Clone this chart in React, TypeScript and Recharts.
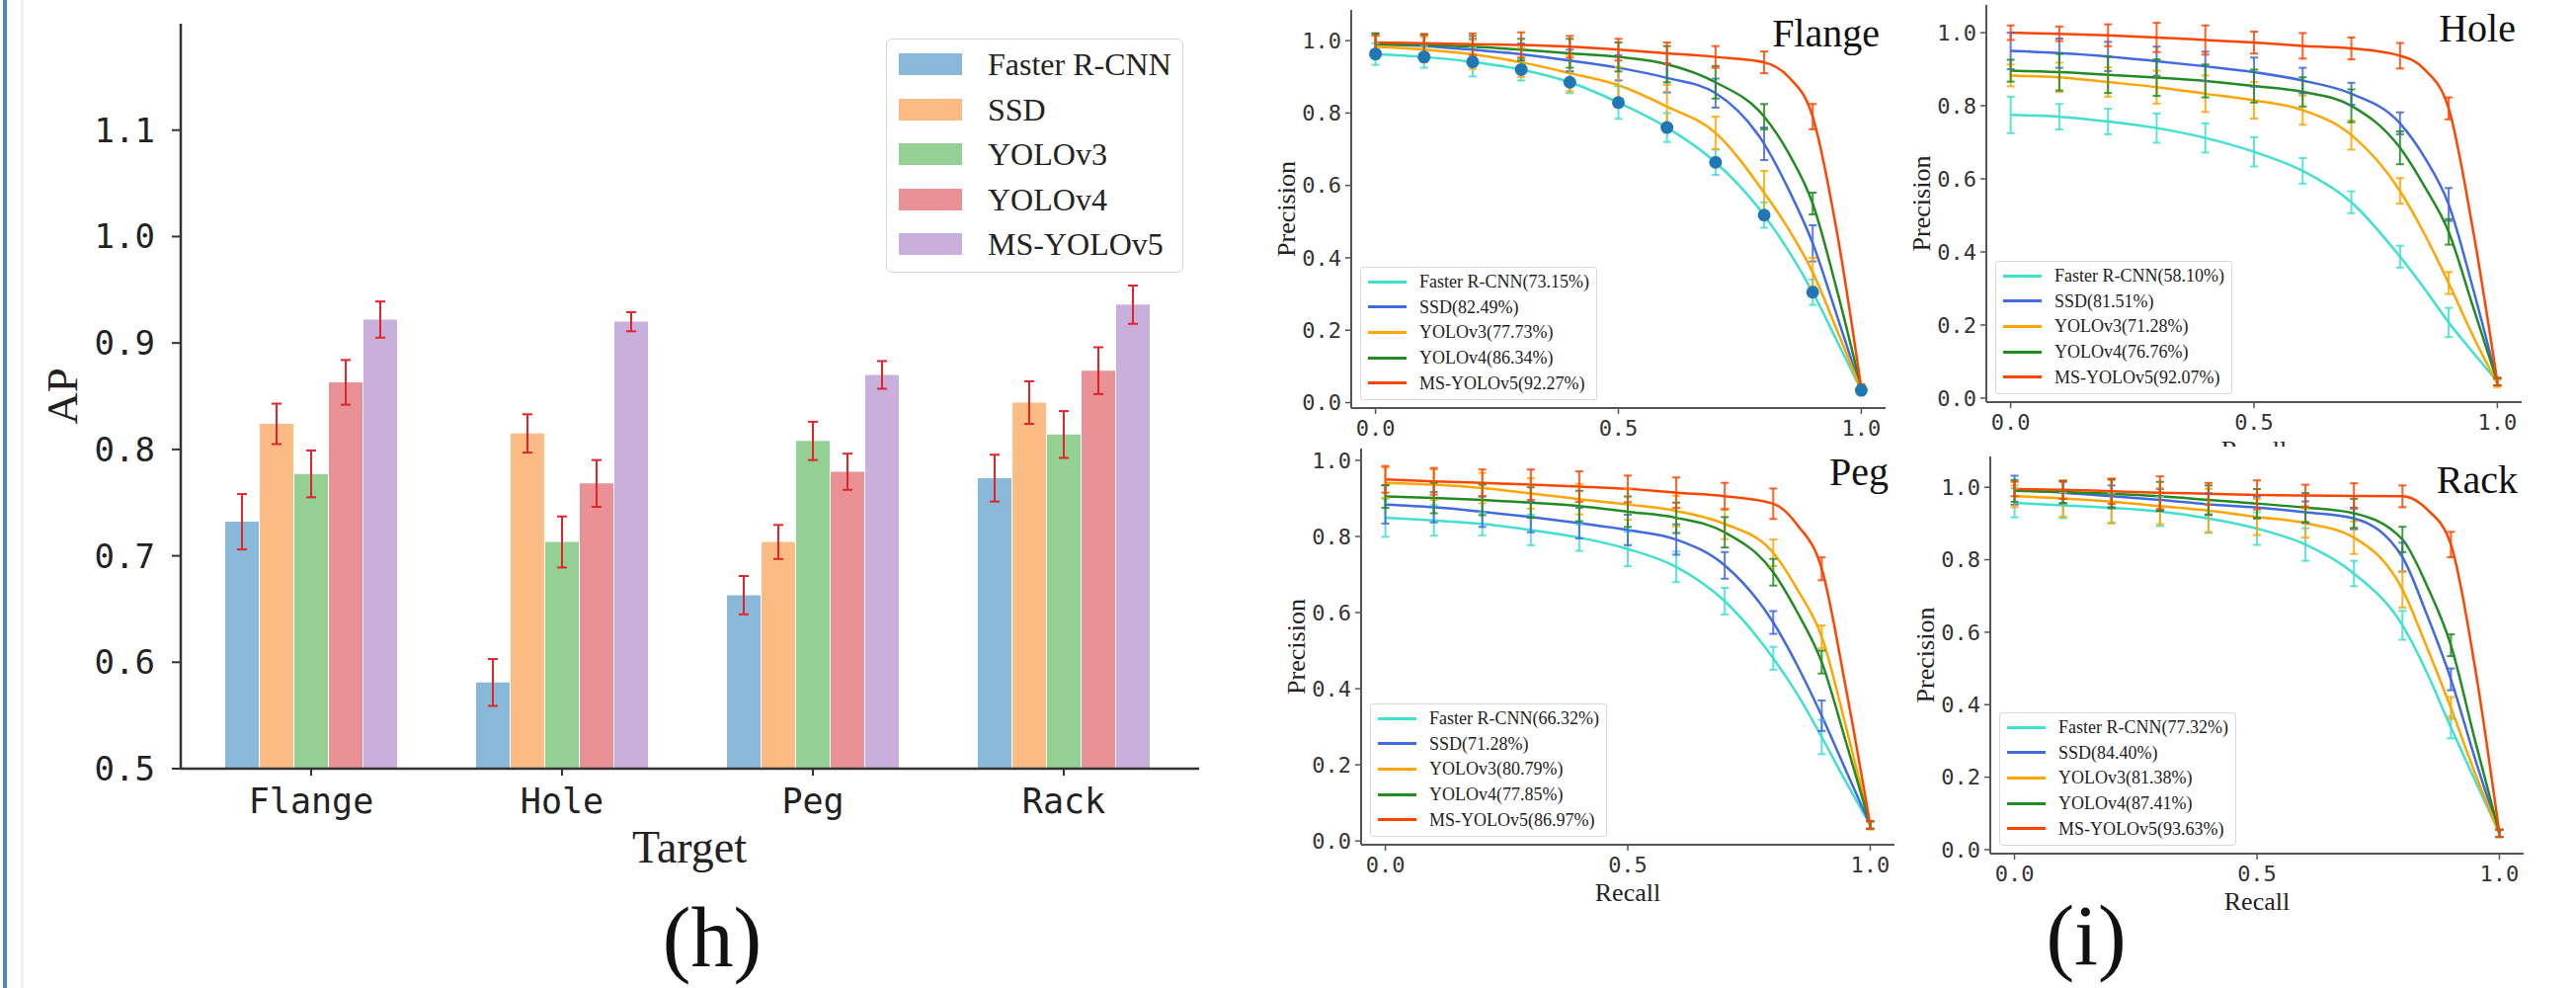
import React from 'react';
import { BarChart, Bar, XAxis, YAxis, ErrorBar, ComposedChart, Line, Scatter } from 'recharts';

const SERIF = '"Liberation Serif", "Times New Roman", serif';
const MONO = '"DejaVu Sans Mono", monospace';

// ---------- (h) bar chart data ----------
const CATEGORIES = ['Flange', 'Hole', 'Peg', 'Rack'];
const MODELS = ['Faster R-CNN', 'SSD', 'YOLOv3', 'YOLOv4', 'MS-YOLOv5'];
const BAR_COLORS = ['#8ab8d9', '#fdbb84', '#94cf94', '#ea9195', '#c9afdc'];
const AP_FASTER = [0.732, 0.581, 0.663, 0.773];
const AP_SSD = [0.824, 0.815, 0.713, 0.844];
const AP_YOLOV3 = [0.777, 0.713, 0.808, 0.814];
const AP_YOLOV4 = [0.863, 0.768, 0.779, 0.874];
const AP_MS = [0.922, 0.920, 0.870, 0.936];
const ERR_FASTER = [0.026, 0.022, 0.018, 0.022];
const ERR_SSD = [0.019, 0.018, 0.016, 0.020];
const ERR_YOLOV3 = [0.022, 0.024, 0.018, 0.022];
const ERR_YOLOV4 = [0.021, 0.022, 0.017, 0.022];
const ERR_MS = [0.017, 0.009, 0.013, 0.018];
const AP_TICKS = [0.5, 0.6, 0.7, 0.8, 0.9, 1.0, 1.1];
const AP_DOMAIN = [0.5, 1.2];

const AP_SERIES = [AP_FASTER, AP_SSD, AP_YOLOV3, AP_YOLOV4, AP_MS];
const AP_ERRS = [ERR_FASTER, ERR_SSD, ERR_YOLOV3, ERR_YOLOV4, ERR_MS];
const barData = CATEGORIES.map((name, i) => {
  const row: any = { name };
  AP_SERIES.forEach((s, k) => {
    row['m' + k] = s[i];
    row['e' + k] = AP_ERRS[k][i];
  });
  return row;
});

// ---------- (i) precision-recall data ----------
const CURVE_RECALL = [0, 0.1, 0.2, 0.3, 0.4, 0.5, 0.6, 0.7, 0.8, 0.85, 0.9, 0.95, 1.0];
const ERR_RECALL = [0, 0.1, 0.2, 0.3, 0.4, 0.5, 0.6, 0.7, 0.8, 0.9, 1.0];
const PR_COLORS = ['#40e0d0', '#4169e1', '#ffa500', '#228b22', '#ff4500'];
const PR_X_TICKS = [0, 0.5, 1.0];
const PR_Y_TICKS = [0, 0.2, 0.4, 0.6, 0.8, 1.0];

// Flange
const FLANGE_FASTER = [0.963, 0.955, 0.941, 0.920, 0.885, 0.829, 0.760, 0.664, 0.518, 0.42, 0.305, 0.17, 0.034];
const FLANGE_SSD = [0.99, 0.985, 0.975, 0.962, 0.945, 0.925, 0.897, 0.855, 0.715, 0.59, 0.44, 0.24, 0.035];
const FLANGE_YOLOV3 = [0.983, 0.975, 0.962, 0.94, 0.91, 0.877, 0.818, 0.745, 0.58, 0.48, 0.36, 0.2, 0.035];
const FLANGE_YOLOV4 = [0.99, 0.988, 0.983, 0.975, 0.965, 0.955, 0.935, 0.885, 0.79, 0.69, 0.55, 0.31, 0.04];
const FLANGE_MS = [0.995, 0.993, 0.99, 0.988, 0.983, 0.975, 0.965, 0.955, 0.94, 0.9, 0.79, 0.47, 0.04];
const FLANGE_ERR_FASTER = [0.03, 0.03, 0.04, 0.03, 0.03, 0.045, 0.04, 0.035, 0.035, 0.035, 0.01];
const FLANGE_ERR_SSD = [0.03, 0.03, 0.03, 0.03, 0.03, 0.035, 0.04, 0.04, 0.045, 0.05, 0.01];
const FLANGE_ERR_YOLOV3 = [0.03, 0.035, 0.04, 0.04, 0.05, 0.05, 0.06, 0.045, 0.06, 0.04, 0.01];
const FLANGE_ERR_YOLOV4 = [0.03, 0.03, 0.03, 0.03, 0.04, 0.04, 0.05, 0.045, 0.035, 0.03, 0.01];
const FLANGE_ERR_MS = [0.02, 0.025, 0.03, 0.035, 0.03, 0.03, 0.03, 0.03, 0.03, 0.035, 0.01];
const FLANGE_LABELS = ['Faster R-CNN(73.15%)', 'SSD(82.49%)', 'YOLOv3(77.73%)', 'YOLOv4(86.34%)', 'MS-YOLOv5(92.27%)'];

// Hole
const HOLE_FASTER = [0.775, 0.77, 0.757, 0.739, 0.712, 0.674, 0.622, 0.536, 0.387, 0.30, 0.207, 0.125, 0.045];
const HOLE_SSD = [0.95, 0.944, 0.935, 0.922, 0.908, 0.892, 0.869, 0.833, 0.752, 0.66, 0.53, 0.30, 0.045];
const HOLE_YOLOV3 = [0.883, 0.878, 0.865, 0.851, 0.833, 0.815, 0.788, 0.72, 0.567, 0.45, 0.315, 0.17, 0.04];
const HOLE_YOLOV4 = [0.896, 0.892, 0.885, 0.877, 0.868, 0.854, 0.838, 0.8, 0.685, 0.58, 0.455, 0.25, 0.045];
const HOLE_MS = [1.0, 0.997, 0.993, 0.987, 0.98, 0.973, 0.964, 0.957, 0.937, 0.9, 0.793, 0.46, 0.045];
const HOLE_ERR_FASTER = [0.05, 0.035, 0.035, 0.04, 0.04, 0.04, 0.035, 0.03, 0.03, 0.04, 0.01];
const HOLE_ERR_SSD = [0.05, 0.04, 0.04, 0.04, 0.04, 0.04, 0.035, 0.03, 0.03, 0.045, 0.01];
const HOLE_ERR_YOLOV3 = [0.03, 0.04, 0.04, 0.045, 0.05, 0.05, 0.04, 0.04, 0.035, 0.03, 0.01];
const HOLE_ERR_YOLOV4 = [0.03, 0.05, 0.05, 0.05, 0.045, 0.045, 0.04, 0.045, 0.045, 0.035, 0.01];
const HOLE_ERR_MS = [0.02, 0.02, 0.03, 0.04, 0.04, 0.03, 0.035, 0.03, 0.035, 0.03, 0.01];
const HOLE_LABELS = ['Faster R-CNN(58.10%)', 'SSD(81.51%)', 'YOLOv3(71.28%)', 'YOLOv4(76.76%)', 'MS-YOLOv5(92.07%)'];

// Peg
const PEG_FASTER = [0.849, 0.842, 0.833, 0.817, 0.797, 0.767, 0.72, 0.63, 0.48, 0.385, 0.273, 0.155, 0.042];
const PEG_SSD = [0.884, 0.877, 0.865, 0.851, 0.835, 0.817, 0.792, 0.724, 0.574, 0.46, 0.329, 0.185, 0.042];
const PEG_YOLOV3 = [0.941, 0.936, 0.927, 0.913, 0.898, 0.884, 0.867, 0.833, 0.757, 0.66, 0.536, 0.30, 0.04];
const PEG_YOLOV4 = [0.905, 0.901, 0.896, 0.889, 0.88, 0.865, 0.849, 0.811, 0.706, 0.60, 0.47, 0.26, 0.042];
const PEG_MS = [0.95, 0.945, 0.941, 0.936, 0.931, 0.925, 0.915, 0.906, 0.886, 0.83, 0.715, 0.40, 0.042];
const PEG_ERR_FASTER = [0.05, 0.04, 0.03, 0.04, 0.035, 0.045, 0.04, 0.035, 0.03, 0.045, 0.01];
const PEG_ERR_SSD = [0.05, 0.04, 0.04, 0.04, 0.04, 0.04, 0.04, 0.035, 0.03, 0.04, 0.01];
const PEG_ERR_YOLOV3 = [0.04, 0.04, 0.04, 0.04, 0.04, 0.04, 0.04, 0.04, 0.035, 0.03, 0.01];
const PEG_ERR_YOLOV4 = [0.03, 0.04, 0.04, 0.04, 0.04, 0.04, 0.04, 0.04, 0.035, 0.03, 0.01];
const PEG_ERR_MS = [0.035, 0.035, 0.035, 0.04, 0.04, 0.035, 0.04, 0.035, 0.04, 0.03, 0.01];
const PEG_LABELS = ['Faster R-CNN(66.32%)', 'SSD(71.28%)', 'YOLOv3(80.79%)', 'YOLOv4(77.85%)', 'MS-YOLOv5(86.97%)'];

// Rack
const RACK_FASTER = [0.957, 0.95, 0.943, 0.933, 0.914, 0.886, 0.842, 0.762, 0.619, 0.49, 0.337, 0.19, 0.045];
const RACK_SSD = [0.992, 0.985, 0.975, 0.965, 0.953, 0.944, 0.931, 0.914, 0.807, 0.65, 0.47, 0.25, 0.045];
const RACK_YOLOV3 = [0.975, 0.969, 0.96, 0.948, 0.936, 0.918, 0.901, 0.861, 0.718, 0.56, 0.391, 0.21, 0.045];
const RACK_YOLOV4 = [0.99, 0.987, 0.982, 0.975, 0.965, 0.955, 0.944, 0.928, 0.856, 0.73, 0.564, 0.30, 0.045];
const RACK_MS = [0.995, 0.993, 0.989, 0.985, 0.982, 0.979, 0.977, 0.976, 0.975, 0.94, 0.842, 0.50, 0.045];
const RACK_ERR_FASTER = [0.04, 0.035, 0.04, 0.04, 0.04, 0.045, 0.045, 0.035, 0.04, 0.03, 0.01];
const RACK_ERR_SSD = [0.04, 0.03, 0.03, 0.03, 0.03, 0.03, 0.03, 0.03, 0.04, 0.03, 0.01];
const RACK_ERR_YOLOV3 = [0.03, 0.05, 0.06, 0.05, 0.06, 0.05, 0.04, 0.045, 0.05, 0.03, 0.01];
const RACK_ERR_YOLOV4 = [0.03, 0.03, 0.04, 0.04, 0.04, 0.04, 0.04, 0.04, 0.035, 0.03, 0.01];
const RACK_ERR_MS = [0.02, 0.025, 0.035, 0.045, 0.03, 0.04, 0.03, 0.035, 0.03, 0.035, 0.01];
const RACK_LABELS = ['Faster R-CNN(77.32%)', 'SSD(84.40%)', 'YOLOv3(81.38%)', 'YOLOv4(87.41%)', 'MS-YOLOv5(93.63%)'];

const ERR_IDX = ERR_RECALL.map((r) => CURVE_RECALL.indexOf(r));

const fmt1 = (v: number) => Number(v).toFixed(1);

function BarLegend() {
  return (
    <div style={{ position: 'absolute', left: 897, top: 39, width: 301, height: 237, border: '1.5px solid #d6d6d6', borderRadius: 6, background: '#fff', boxSizing: 'border-box' }}>
      {MODELS.map((m, k) => {
        const cy = 25 + k * 45.5;
        return (
          <React.Fragment key={m}>
            <div style={{ position: 'absolute', left: 12, top: cy - 11, width: 64, height: 22, background: BAR_COLORS[k] }} />
            <div style={{ position: 'absolute', left: 102, top: cy - 20, height: 40, lineHeight: '40px', fontFamily: SERIF, fontSize: 32, color: '#222', whiteSpace: 'nowrap' }}>{m}</div>
          </React.Fragment>
        );
      })}
    </div>
  );
}

function APChart() {
  const axisStyle = { stroke: '#333', strokeWidth: 2.5 };
  return (
    <div style={{ position: 'absolute', left: 0, top: 0, width: 1250, height: 1000 }}>
      <BarChart width={1250} height={1000} data={barData} margin={{ top: 24, right: 36, left: 103, bottom: 162 }} barSize={34} barGap={1}>
        <XAxis dataKey="name" padding={{ left: 5, right: 10 }} height={60} interval={0} tickSize={7} tickMargin={13}
          tick={{ fontFamily: MONO, fontSize: 35, fill: '#222' }} axisLine={axisStyle} tickLine={{ stroke: '#333', strokeWidth: 2 }} />
        <XAxis xAxisId="top" dataKey="name" orientation="top" height={0} tick={false} tickLine={false} axisLine={axisStyle} />
        <YAxis domain={AP_DOMAIN} ticks={AP_TICKS} width={80} allowDataOverflow tickFormatter={fmt1} tickSize={9} tickMargin={17}
          tick={{ fontFamily: MONO, fontSize: 34, fill: '#222' }} axisLine={axisStyle} tickLine={{ stroke: '#333', strokeWidth: 2 }} />
        <YAxis yAxisId="right" orientation="right" width={0} domain={AP_DOMAIN} allowDataOverflow tick={false} tickLine={false} axisLine={axisStyle} />
        {MODELS.map((m, k) => (
          <Bar key={m} dataKey={'m' + k} name={m} fill={BAR_COLORS[k]} isAnimationActive={false}>
            <ErrorBar dataKey={'e' + k} width={5} strokeWidth={2} stroke="#e3242b" direction="y" />
          </Bar>
        ))}
      </BarChart>
      <BarLegend />
    </div>
  );
}

function PRPanel(props: any) {
  const { title, labels, curves, errs, frame, yDomain, dots } = props;
  const [fL, fT, fR, fB] = frame;
  const fW = fR - fL;
  const fH = fB - fT;
  const W = fW + 92;
  const H = fH + 75;
  const axisStyle = { stroke: '#555', strokeWidth: 2 };
  const legendTop = 10 + fH - 8 - 135;
  return (
    <div style={{ position: 'absolute', left: fL - 80, top: fT - 10, width: W, height: H, background: '#fff' }}>
      <ComposedChart width={W} height={H} margin={{ top: 10, right: 12, left: 0, bottom: 25 }}>
        <XAxis dataKey="x" type="number" domain={[-0.05, 1.05]} ticks={PR_X_TICKS} allowDataOverflow interval={0} height={40}
          tickFormatter={fmt1} tickSize={6} tickMargin={6} tick={{ fontFamily: MONO, fontSize: 22, fill: '#333' }}
          axisLine={axisStyle} tickLine={{ stroke: '#555', strokeWidth: 1.5 }} />
        <XAxis xAxisId="top" type="number" orientation="top" domain={[-0.05, 1.05]} allowDataOverflow height={0} tick={false} tickLine={false} axisLine={axisStyle} />
        <YAxis type="number" domain={yDomain} ticks={PR_Y_TICKS} allowDataOverflow width={80} interval={0}
          tickFormatter={fmt1} tickSize={6} tickMargin={4} tick={{ fontFamily: MONO, fontSize: 22, fill: '#333' }}
          axisLine={axisStyle} tickLine={{ stroke: '#555', strokeWidth: 1.5 }} />
        <YAxis yAxisId="right" type="number" orientation="right" width={0} domain={yDomain} allowDataOverflow tick={false} tickLine={false} axisLine={axisStyle} />
        {curves.map((c: number[], k: number) => (
          <Line key={'l' + k} data={c.map((y, i) => ({ x: CURVE_RECALL[i], y }))} dataKey="y" type="monotone"
            stroke={PR_COLORS[k]} strokeWidth={2.5} dot={false} activeDot={false} isAnimationActive={false} />
        ))}
        {errs.map((e: number[], k: number) => (
          <Scatter key={'s' + k} data={e.map((err, j) => ({ x: ERR_RECALL[j], y: curves[k][ERR_IDX[j]], e: err }))} dataKey="y"
            isAnimationActive={false}
            shape={(p: any) => (dots && k === 0 ? <circle cx={p.cx} cy={p.cy} r={6.5} fill="#1f77b4" /> : <g />)}>
            <ErrorBar dataKey="e" direction="y" width={4} strokeWidth={2} stroke={PR_COLORS[k]} strokeOpacity={0.85} />
          </Scatter>
        ))}
      </ComposedChart>
      <svg width={W} height={H} style={{ position: 'absolute', left: 0, top: 0, pointerEvents: 'none' }}>
        <text x={14} y={10 + fH / 2} transform={`rotate(-90 14 ${10 + fH / 2})`} textAnchor="middle" dominantBaseline="central"
          fontFamily={SERIF} fontSize={26} fill="#222">Precision</text>
        <text x={80 + fW / 2} y={10 + fH + 57} textAnchor="middle" fontFamily={SERIF} fontSize={26} fill="#222">Recall</text>
        <text x={80 + fW - 6} y={47} textAnchor="end" fontFamily={SERIF} fontSize={40} fill="#111">{title}</text>
      </svg>
      <div style={{ position: 'absolute', left: 89, top: legendTop, width: 240, height: 135, border: '1px solid #d8d8d8', borderRadius: 3, background: 'rgba(255,255,255,0.9)', boxSizing: 'border-box' }}>
        {labels.map((l: string, k: number) => {
          const cy = 14 + k * 25.7;
          return (
            <React.Fragment key={l}>
              <div style={{ position: 'absolute', left: 7, top: cy - 1.5, width: 39, height: 3, background: PR_COLORS[k] }} />
              <div style={{ position: 'absolute', left: 59, top: cy - 12, height: 24, lineHeight: '24px', fontFamily: SERIF, fontSize: 18, color: '#222', whiteSpace: 'nowrap' }}>{l}</div>
            </React.Fragment>
          );
        })}
      </div>
    </div>
  );
}

export default function App() {
  return (
    <div style={{ position: 'absolute', left: 0, top: 0, width: 2608, height: 1000, background: '#fff', overflow: 'hidden' }}>
      <div style={{ position: 'absolute', left: 3, top: 0, width: 4, height: 1000, background: '#4f86c6' }} />
      <div style={{ position: 'absolute', left: 21, top: 0, width: 3, height: 1000, background: '#f1f1f1' }} />
      <APChart />
      <PRPanel title="Flange" labels={FLANGE_LABELS} frame={[1368, 10, 1909, 413]} yDomain={[-0.015, 1.085]} dots
        curves={[FLANGE_FASTER, FLANGE_SSD, FLANGE_YOLOV3, FLANGE_YOLOV4, FLANGE_MS]}
        errs={[FLANGE_ERR_FASTER, FLANGE_ERR_SSD, FLANGE_ERR_YOLOV3, FLANGE_ERR_YOLOV4, FLANGE_ERR_MS]} />
      <PRPanel title="Hole" labels={HOLE_LABELS} frame={[2011, 5, 2553, 407]} yDomain={[-0.011, 1.076]}
        curves={[HOLE_FASTER, HOLE_SSD, HOLE_YOLOV3, HOLE_YOLOV4, HOLE_MS]}
        errs={[HOLE_ERR_FASTER, HOLE_ERR_SSD, HOLE_ERR_YOLOV3, HOLE_ERR_YOLOV4, HOLE_ERR_MS]} />
      <PRPanel title="Peg" labels={PEG_LABELS} frame={[1378, 454, 1918, 855]} yDomain={[-0.010, 1.031]}
        curves={[PEG_FASTER, PEG_SSD, PEG_YOLOV3, PEG_YOLOV4, PEG_MS]}
        errs={[PEG_ERR_FASTER, PEG_ERR_SSD, PEG_ERR_YOLOV3, PEG_ERR_YOLOV4, PEG_ERR_MS]} />
      <PRPanel title="Rack" labels={RACK_LABELS} frame={[2015, 462, 2555, 864]} yDomain={[-0.011, 1.085]}
        curves={[RACK_FASTER, RACK_SSD, RACK_YOLOV3, RACK_YOLOV4, RACK_MS]}
        errs={[RACK_ERR_FASTER, RACK_ERR_SSD, RACK_ERR_YOLOV3, RACK_ERR_YOLOV4, RACK_ERR_MS]} />
      <svg width={2608} height={1000} style={{ position: 'absolute', left: 0, top: 0, pointerEvents: 'none' }}>
        <text x={63} y={401} transform="rotate(-90 63 401)" textAnchor="middle" dominantBaseline="central" fontFamily={SERIF} fontSize={45} fill="#222">AP</text>
        <text x={698} y={873} textAnchor="middle" fontFamily={SERIF} fontSize={46} fill="#222">Target</text>
        <text x={721} y={978} textAnchor="middle" fontFamily={SERIF} fontSize={86} fill="#111">(h)</text>
        <text x={2112} y={976} textAnchor="middle" fontFamily={SERIF} fontSize={86} fill="#111">(i)</text>
      </svg>
    </div>
  );
}
